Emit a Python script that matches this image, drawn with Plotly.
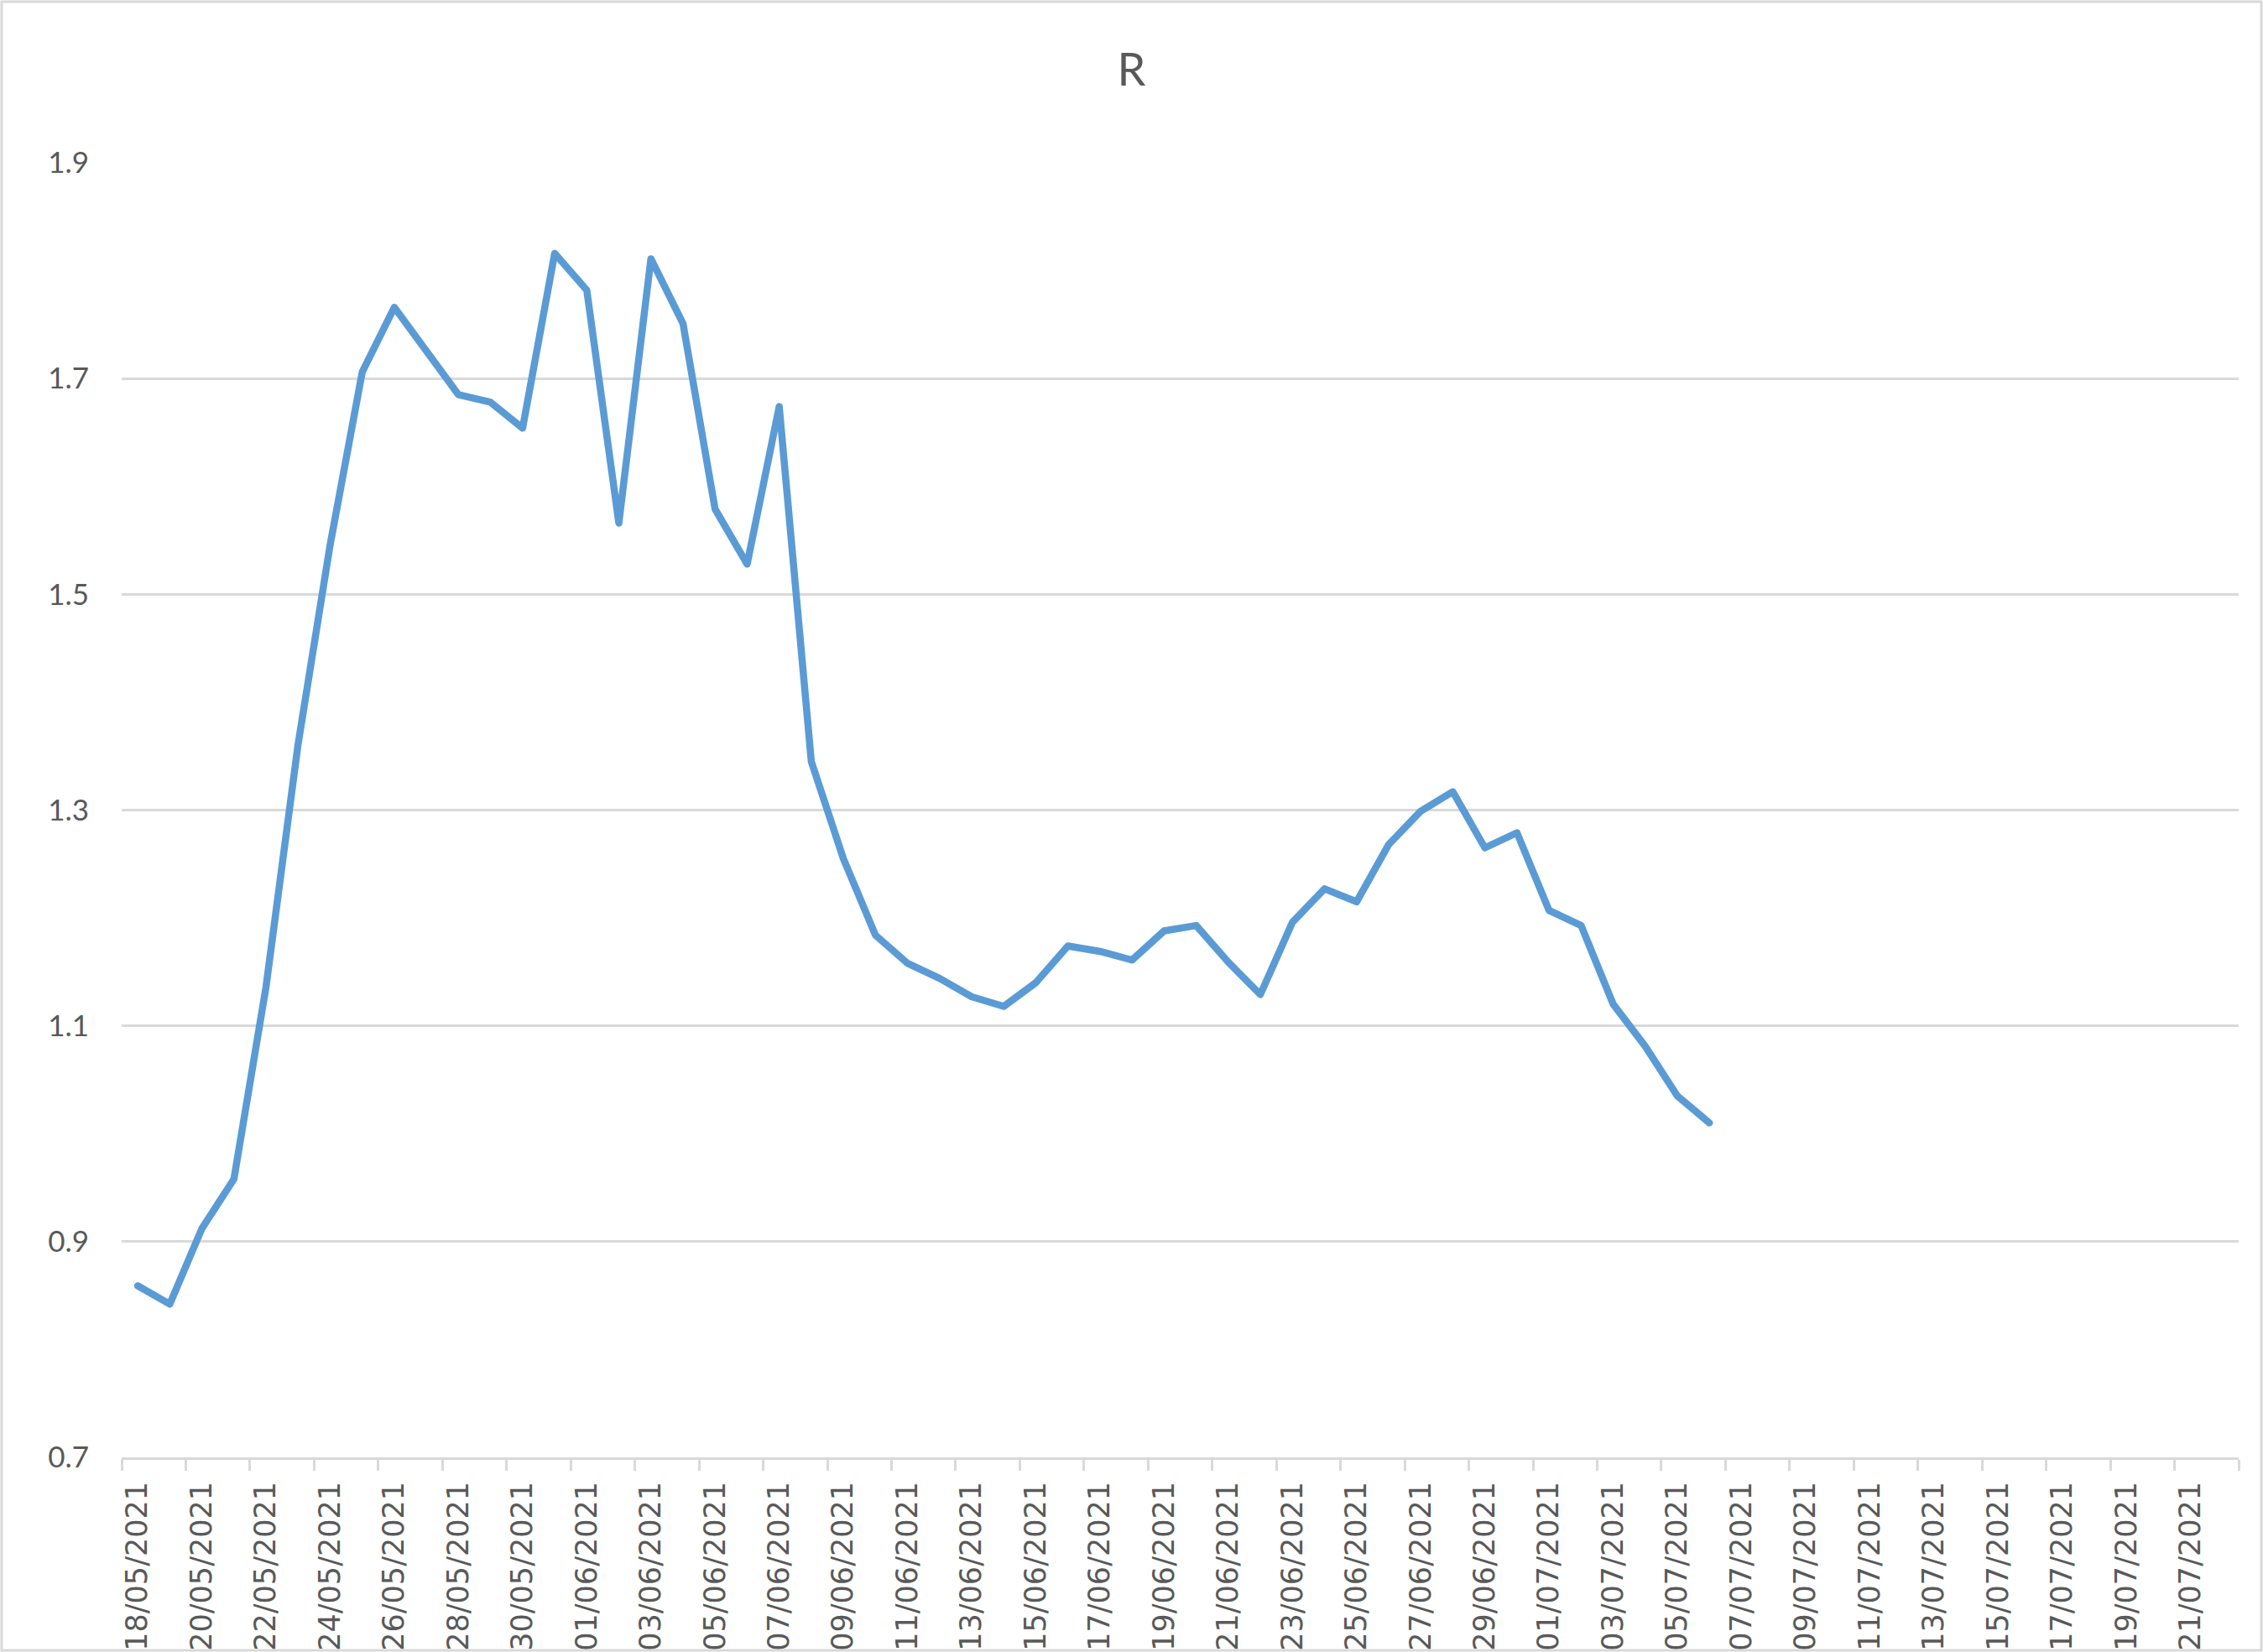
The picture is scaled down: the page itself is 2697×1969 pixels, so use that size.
import plotly.graph_objects as go

# ---- data ----
dates = [
    "2021-05-18", "2021-05-19", "2021-05-20", "2021-05-21", "2021-05-22",
    "2021-05-23", "2021-05-24", "2021-05-25", "2021-05-26", "2021-05-27",
    "2021-05-28", "2021-05-29", "2021-05-30", "2021-05-31", "2021-06-01",
    "2021-06-02", "2021-06-03", "2021-06-04", "2021-06-05", "2021-06-06",
    "2021-06-07", "2021-06-08", "2021-06-09", "2021-06-10", "2021-06-11",
    "2021-06-12", "2021-06-13", "2021-06-14", "2021-06-15", "2021-06-16",
    "2021-06-17", "2021-06-18", "2021-06-19", "2021-06-20", "2021-06-21",
    "2021-06-22", "2021-06-23", "2021-06-24", "2021-06-25", "2021-06-26",
    "2021-06-27", "2021-06-28", "2021-06-29", "2021-06-30", "2021-07-01",
    "2021-07-02", "2021-07-03", "2021-07-04", "2021-07-05", "2021-07-06",
]
r_values = [
    0.859, 0.842, 0.912, 0.958, 1.136, 1.361, 1.546, 1.706, 1.766, 1.726,
    1.685, 1.678, 1.654, 1.816, 1.782, 1.566, 1.811, 1.751, 1.579, 1.528,
    1.674, 1.345, 1.255, 1.184, 1.158, 1.144, 1.127, 1.118, 1.140, 1.174,
    1.169, 1.161, 1.188, 1.193, 1.159, 1.129, 1.196, 1.227, 1.215, 1.268,
    1.299, 1.317, 1.265, 1.279, 1.207, 1.193, 1.120, 1.081, 1.035, 1.010,
]
x_range = ["2021-05-17 12:00", "2021-07-22 12:00"]
y_ticks = [0.7, 0.9, 1.1, 1.3, 1.5, 1.7, 1.9]
title_text = "R"

# ---- figure ----
W, H = 2697, 1969
ML, MR, MT, MB = 145, 29, 194, 232
PW, PH = W - ML - MR, H - MT - MB
GREY = "#D9D9D9"
TXT = "#595959"
TWO_DAYS = 2 * 24 * 3600 * 1000

fig = go.Figure()
fig.add_trace(go.Scatter(
    x=dates, y=r_values, mode="lines",
    line=dict(color="#5B9BD5", width=8.5),
    hoverinfo="skip", showlegend=False,
))

fig.update_layout(
    width=W, height=H,
    margin=dict(l=ML, r=MR, t=MT, b=MB, autoexpand=False),
    paper_bgcolor="white", plot_bgcolor="white",
    title=dict(text=title_text, x=0.5, xref="container", xanchor="center",
               y=1 - 83 / H, yref="container", yanchor="middle",
               font=dict(family="Lato", size=54, color=TXT)),
    font=dict(family="Lato", color=TXT),
    xaxis=dict(
        type="date", range=x_range, automargin=False,
        tickmode="linear", tick0="2021-05-18", dtick=TWO_DAYS,
        tickformat="%d/%m/%Y", tickangle=-90,
        ticks="outside", ticklen=12, tickcolor="rgba(0,0,0,0)",
        tickfont=dict(family="DejaVu Sans", size=35, color=TXT),
        showgrid=False, zeroline=False,
        showline=True, linecolor=GREY, linewidth=3,
        minor=dict(tick0="2021-05-17 12:00", dtick=TWO_DAYS,
                   ticks="outside", ticklen=13, tickwidth=3,
                   tickcolor=GREY, showgrid=False),
        fixedrange=True,
    ),
    yaxis=dict(
        range=[0.7, 1.9], tickmode="array", tickvals=y_ticks, automargin=False,
        ticktext=[f"{v:.1f}" for v in y_ticks],
        showgrid=True, gridcolor=GREY, gridwidth=2.5,
        zeroline=False, showline=False, ticks="",
        ticklabelstandoff=38,
        tickfont=dict(family="Lato", size=35, color=TXT),
        fixedrange=True,
    ),
    shapes=[dict(
        type="rect", xref="paper", yref="paper",
        x0=(-ML + 2) / PW, x1=1 + (MR - 2) / PW,
        y0=(-MB + 2) / PH, y1=1 + (MT - 2) / PH,
        line=dict(color=GREY, width=3), fillcolor="rgba(0,0,0,0)",
        layer="below",
    )],
)

fig.write_html(
    "out.html",
    config={"displayModeBar": False},
    post_script=(
        "document.body.style.margin='0';document.body.style.overflow='hidden';"
        "document.querySelectorAll('.scatterlayer path.js-line').forEach(function(p){"
        "p.style.strokeLinejoin='round';p.style.strokeLinecap='round';});"
    ),
)
